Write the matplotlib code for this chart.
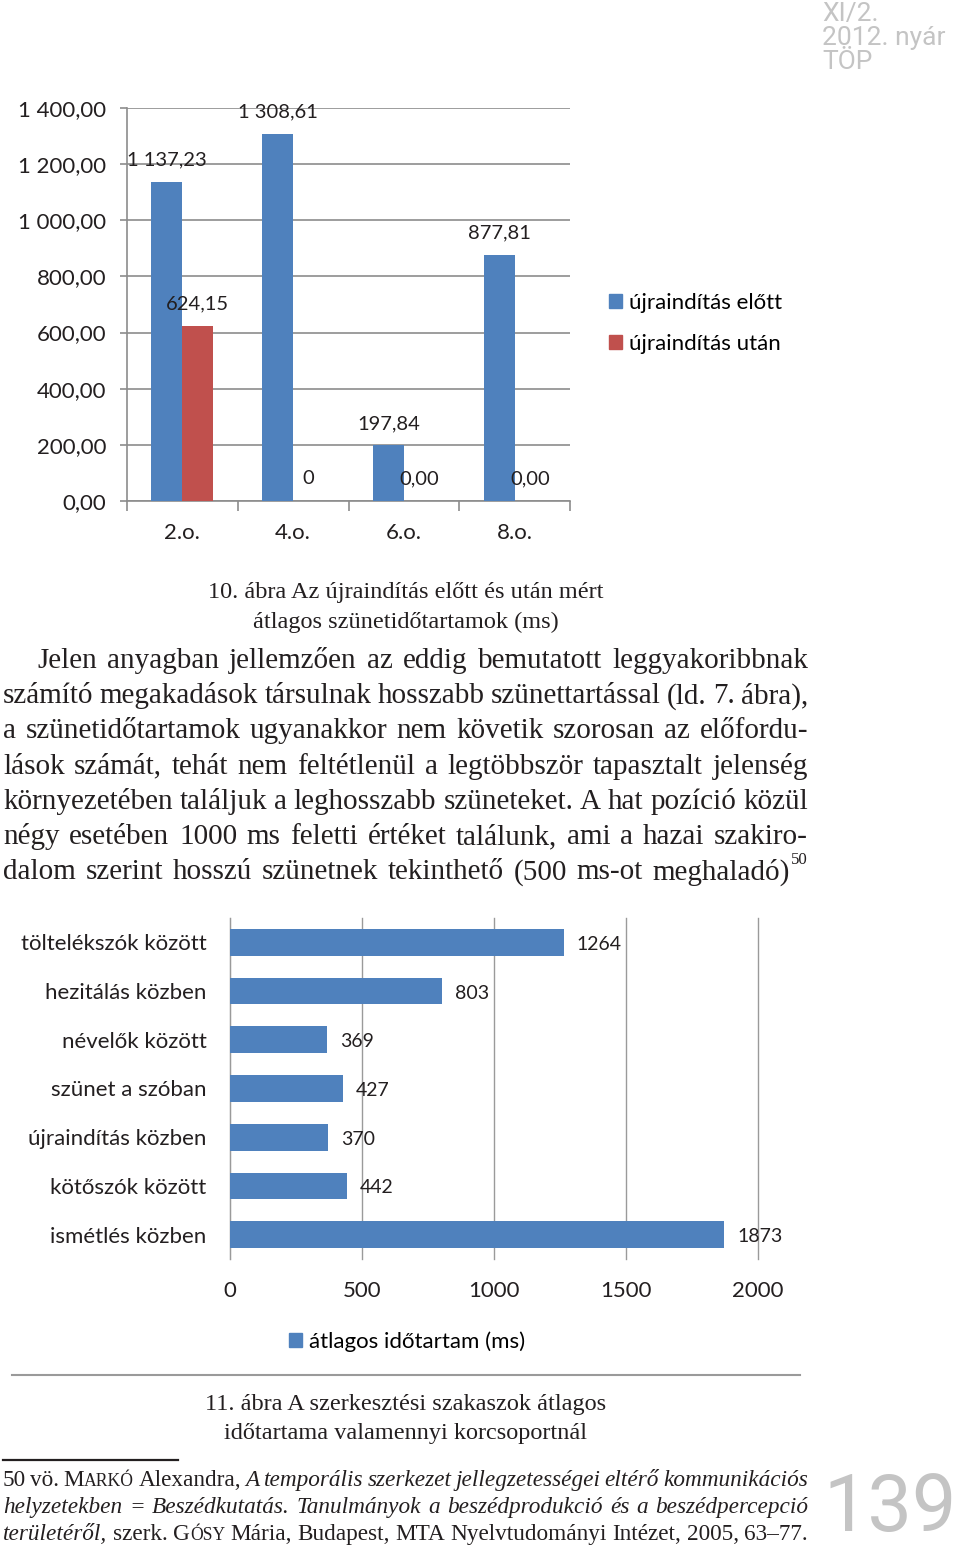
import matplotlib.pyplot as plt
from matplotlib.patches import Patch
from matplotlib.lines import Line2D
import numpy as np

W, H = 960, 1548

# --- 10. abra ---
groups = ['2.o.', '4.o.', '6.o.', '8.o.']
before = [1137.23, 1308.61, 197.84, 877.81]
after = [624.15, 0, 0, 0]
before_labels = ['1 137,23', '1 308,61', '197,84', '877,81']
after_labels = ['624,15', '0', '0,00', '0,00']
series_names = ['újraindítás előtt', 'újraindítás után']
yticks = [0, 200, 400, 600, 800, 1000, 1200, 1400]

# --- 11. abra ---
positions = ['töltelékszók között', 'hezitálás közben', 'névelők között',
             'szünet a szóban', 'újraindítás közben', 'kötőszók között',
             'ismétlés közben']
durations = [1264, 803, 369, 427, 370, 442, 1873]
xticks = [0, 500, 1000, 1500, 2000]
legend2 = 'átlagos időtartam (ms)'

caption1 = ['10. ábra Az újraindítás előtt és után mért',
            'átlagos szünetidőtartamok (ms)']
caption2 = ['11. ábra A szerkesztési szakaszok átlagos',
            'időtartama valamennyi korcsoportnál']
body = ['Jelen anyagban jellemzően az eddig bemutatott leggyakoribbnak',
        'számító megakadások társulnak hosszabb szünettartással (ld. 7. ábra),',
        'a szünetidőtartamok ugyanakkor nem követik szorosan az előfordu-',
        'lások számát, tehát nem feltétlenül a legtöbbször tapasztalt jelenség',
        'környezetében találjuk a leghosszabb szüneteket. A hat pozíció közül',
        'négy esetében 1000 ms feletti értéket találunk, ami a hazai szakiro-',
        'dalom szerint hosszú szünetnek tekinthető (500 ms-ot meghaladó)']
header = ['XI/2.', '2012. nyár', 'TÖP']
page_no = '139'

BLUE = '#4f81bd'
RED = '#c0504d'
GRID = '#8c8c8c'
INK = '#231f20'
SANS = ['Lato', 'DejaVu Sans']
SERIF = ['Liberation Serif', 'DejaVu Serif']


def box(x0, y0, x1, y1):
    return [x0 / W, 1 - y1 / H, (x1 - x0) / W, (y1 - y0) / H]


def fy(y):
    return 1 - y / H


def hu(v):
    return f'{v:,.2f}'.replace(',', ' ').replace('.', ',')


fig = plt.figure(figsize=(W / 100, H / 100), dpi=100)
fig.patch.set_facecolor('white')
renderer = fig.canvas.get_renderer()

# chart 1
ax1 = fig.add_axes(box(127, 108, 570, 501))
x = np.arange(len(groups))
bw = 0.28
ax1.bar(x - bw / 2, before, bw, color=BLUE, zorder=3)
ax1.bar(x + bw / 2, after, bw, color=RED, zorder=3)
ax1.set_xlim(-0.5, len(groups) - 0.5)
ax1.set_ylim(0, 1400)
ax1.set_yticks(yticks)
ax1.set_yticklabels([hu(v) for v in yticks], family=SANS, fontsize=16, color=INK)
ax1.yaxis.grid(True, color=GRID, lw=1.2)
ax1.set_axisbelow(True)
for s in ['top', 'right']:
    ax1.spines[s].set_visible(False)
for s in ['left', 'bottom']:
    ax1.spines[s].set_color(GRID)
    ax1.spines[s].set_linewidth(1.2)
ax1.set_xticks(np.arange(-0.5, len(groups), 1))
ax1.set_xticklabels([])
ax1.set_xticks(x, minor=True)
ax1.set_xticklabels(groups, minor=True, family=SANS, fontsize=16, color=INK)
ax1.tick_params(axis='x', which='major', length=7, color=GRID, width=1.2)
ax1.tick_params(axis='x', which='minor', length=0, pad=16)
ax1.tick_params(axis='y', length=5, color=GRID, width=1.2, pad=10)
for i in range(len(groups)):
    ax1.annotate(before_labels[i], (x[i] - bw / 2, before[i]), xytext=(0, 22),
                 textcoords='offset pixels', ha='center', va='center',
                 family=SANS, fontsize=14.5, color=INK)
    ax1.annotate(after_labels[i], (x[i] + bw / 2, after[i]), xytext=(0, 22),
                 textcoords='offset pixels', ha='center', va='center',
                 family=SANS, fontsize=14.5, color=INK)
fig.legend([Patch(color=BLUE), Patch(color=RED)], series_names,
           loc='upper left', bbox_to_anchor=(589 / W, fy(273)), frameon=False,
           handlelength=0.6, handleheight=0.6, handletextpad=0.3,
           labelspacing=0.95, prop={'family': SANS, 'size': 16})

# chart 2
ax2 = fig.add_axes(box(230, 918, 758, 1259))
y = np.arange(len(positions))
ax2.barh(y, durations, 0.55, color=BLUE, zorder=3)
ax2.set_ylim(len(positions) - 0.5, -0.5)
ax2.set_xlim(0, 2000)
ax2.set_xticks(xticks)
ax2.set_xticklabels([str(v) for v in xticks], family=SANS, fontsize=16, color=INK)
ax2.set_yticks(y)
ax2.set_yticklabels(positions, family=SANS, fontsize=16, color=INK)
ax2.xaxis.grid(True, color='#9a9a9a', lw=1)
for gl in ax2.get_xgridlines():
    gl.set_clip_on(False)
ax2.set_axisbelow(True)
for s in ['top', 'right', 'bottom']:
    ax2.spines[s].set_visible(False)
ax2.spines['left'].set_color('#9a9a9a')
ax2.tick_params(axis='y', length=0, pad=17)
ax2.tick_params(axis='x', length=0, pad=16)
for i, v in enumerate(durations):
    ax2.annotate(str(v), (v, y[i]), xytext=(13, -2), textcoords='offset pixels',
                 ha='left', va='center', family=SANS, fontsize=14, color=INK)
fig.legend([Patch(color=BLUE)], [legend2], loc='upper left',
           bbox_to_anchor=(269 / W, fy(1311)), frameon=False,
           handlelength=0.6, handleheight=0.6, handletextpad=0.3,
           prop={'family': SANS, 'size': 16})

fig.add_artist(Line2D([12 / W, 800 / W], [fy(1375)] * 2, color='#9a9a9a', lw=1.5))
fig.add_artist(Line2D([3 / W, 178 / W], [fy(1460)] * 2, color=INK, lw=1.6))

# captions
for i, s in enumerate(caption1):
    fig.text(406 / W, fy(598 + 30 * i), s, ha='center', va='baseline',
             family=SERIF, fontsize=17.5, color=INK)
for i, s in enumerate(caption2):
    fig.text(406 / W, fy(1410 + 29 * i), s, ha='center', va='baseline',
             family=SERIF, fontsize=17.5, color=INK)

# header and page number
for i, s in enumerate(header):
    fig.text(822 / W, fy(21 + 24 * i), s, ha='left', va='baseline',
             family=['Roboto', 'DejaVu Sans'], fontsize=19, color='#c4c4c4')
fig.text(957 / W, fy(1547), page_no, ha='right', va='bottom',
         family=['Roboto', 'DejaVu Sans'], fontsize=57, color='#c4c4c4')


def width(s, **kw):
    t = fig.text(0, 0, s, **kw)
    w = t.get_window_extent(renderer).width
    t.remove()
    return w


def seg_kw(style, fs):
    kw = dict(family=SERIF, color=INK, fontsize=fs)
    if style == 'i':
        kw['style'] = 'italic'
    if style == 'sc':
        kw['fontsize'] = fs * 0.76
    return kw


def justify(words, x0, x1, yb, fs):
    ws = [sum(width(t, **seg_kw(st, fs)) for t, st in w) for w in words]
    gap = (x1 - x0 - sum(ws)) / (len(words) - 1)
    xx = x0
    for w, ww in zip(words, ws):
        xs = xx
        for t, st in w:
            fig.text(xs / W, fy(yb), t, ha='left', va='baseline', **seg_kw(st, fs))
            xs += width(t, **seg_kw(st, fs))
        xx += ww + gap


def fit(lines, spans, fs, mingap):
    while fs > 6:
        ok = True
        for words, (a, b) in zip(lines, spans):
            tot = sum(sum(width(t, **seg_kw(st, fs)) for t, st in w) for w in words)
            if tot + mingap * (len(words) - 1) > b - a:
                ok = False
                break
        if ok:
            return fs
        fs -= 0.25
    return fs


# body paragraph
body_words = [[[(w, 'n')] for w in line.split()] for line in body]
body_spans = [(37, 808)] + [(3, 808)] * 5 + [(3, 790)]
bfs = fit(body_words, body_spans, 24, 6)
for i, words in enumerate(body_words):
    justify(words, body_spans[i][0], body_spans[i][1], 668 + 35.2 * i, bfs)
fig.text(791 / W, fy(864), '50', ha='left', va='baseline', family=SERIF,
         fontsize=bfs * 0.58, color=INK)

# footnote
def it(s):
    return [[(w, 'i')] for w in s.split()]


def rm(s):
    return [[(w, 'n')] for w in s.split()]


foot = [
    rm('50 vö.') + [[('M', 'n'), ('ARKÓ', 'sc')]] + rm('Alexandra,')
    + it('A temporális szerkezet jellegzetességei eltérő kommunikációs'),
    it('helyzetekben = Beszédkutatás. Tanulmányok a beszédprodukció és a beszédpercepció'),
    it('területéről,') + rm('szerk.') + [[('G', 'n'), ('ÓSY', 'sc')]]
    + rm('Mária, Budapest, MTA Nyelvtudományi Intézet, 2005, 63–77.'),
]
foot_spans = [(3, 808)] * 3
ffs = fit(foot, foot_spans, 17, 3)
for i, words in enumerate(foot):
    justify(words, 3, 808, 1486 + 27 * i, ffs)

fig.savefig('out.png', dpi=100, facecolor='white')
